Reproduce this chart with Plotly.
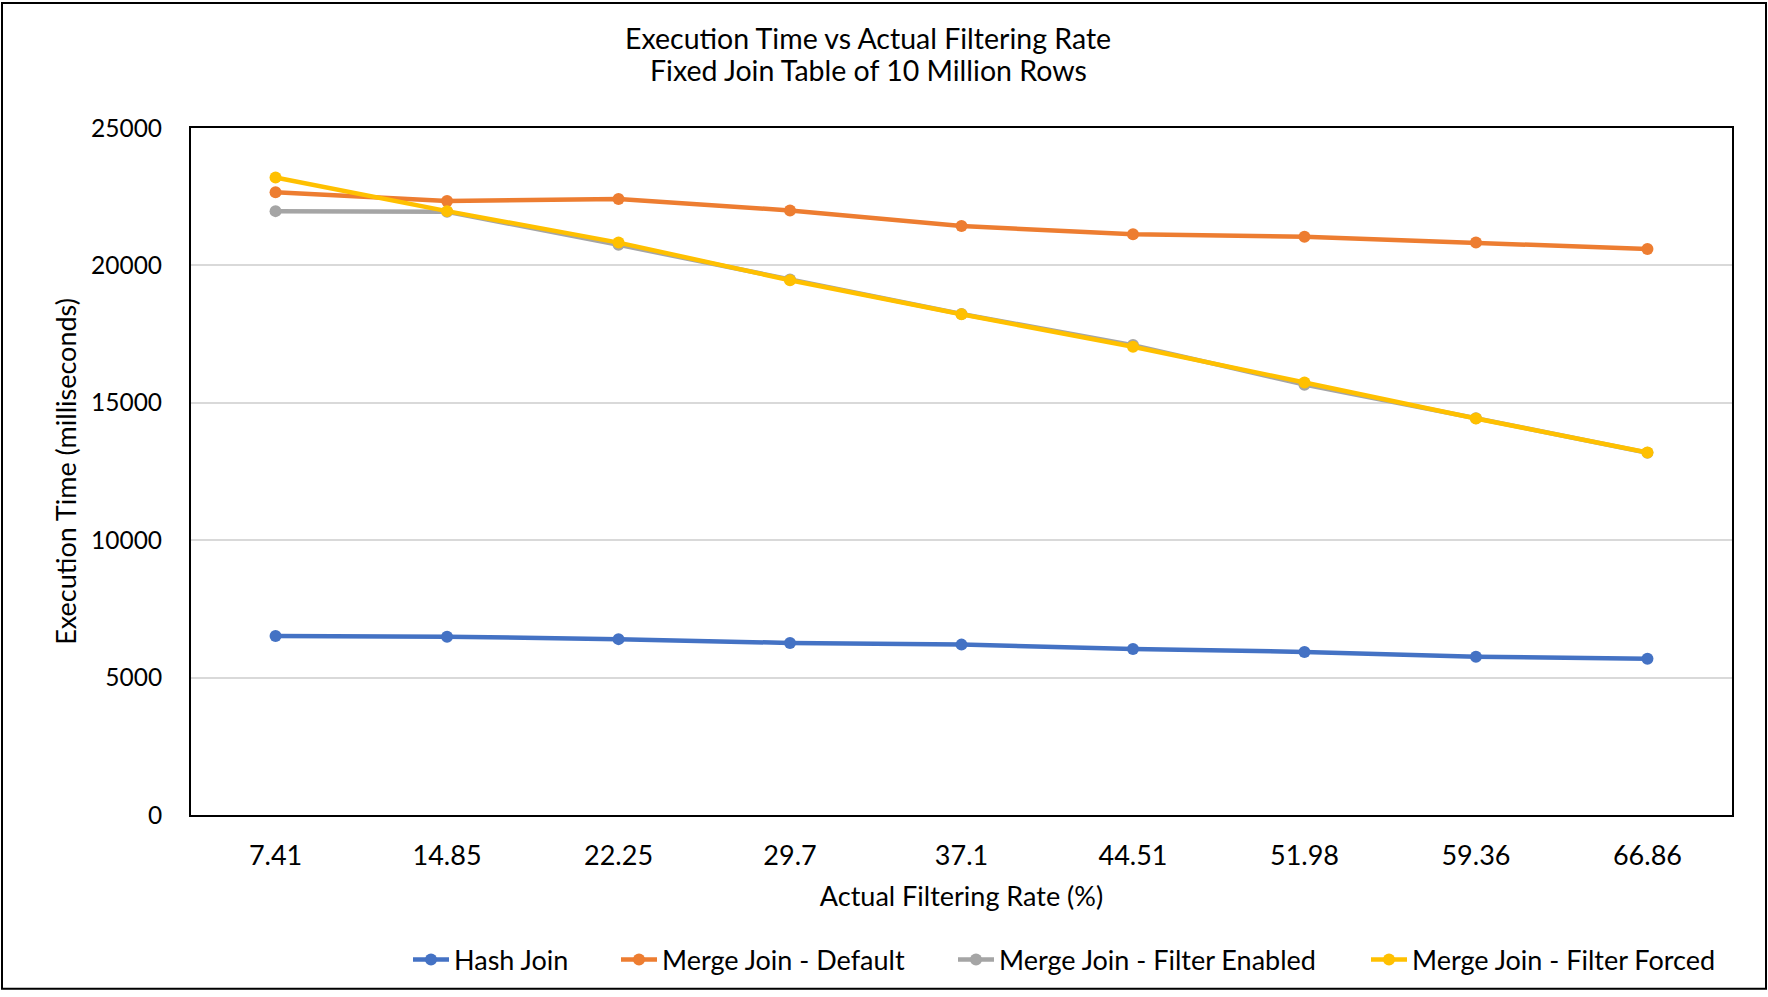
import plotly.graph_objects as go

categories = ["7.41", "14.85", "22.25", "29.7", "37.1", "44.51", "51.98", "59.36", "66.86"]
hash_join = [6510, 6490, 6400, 6260, 6200, 6040, 5935, 5755, 5690]
merge_default = [22660, 22340, 22420, 22000, 21430, 21130, 21040, 20830, 20600]
merge_filter_enabled = [21975, 21950, 20750, 19490, 18230, 17100, 15660, 14440, 13180]
merge_filter_forced = [23200, 21975, 20830, 19460, 18220, 17040, 15740, 14430, 13190]
series_names = ["Hash Join", "Merge Join - Default", "Merge Join - Filter Enabled", "Merge Join - Filter Forced"]
colors = ["#4472C4", "#ED7D31", "#A5A5A5", "#FFC000"]
y_ticks = [0, 5000, 10000, 15000, 20000, 25000]

FONT = "Lato, Roboto, sans-serif"
FS = 27

W, H = 1768, 997
L, R, T, B = 191, 1732, 128, 820
pw, ph = R - L, B - T

legend_ids = ["legend", "legend2", "legend3", "legend4"]
legend_sym_x = [413, 621, 958, 1371]  # page x of legend symbol start

fig = go.Figure()
for name, vals, col, lid in zip(series_names,
                                [hash_join, merge_default, merge_filter_enabled, merge_filter_forced],
                                colors, legend_ids):
    fig.add_trace(go.Scatter(
        x=categories, y=vals, name=name, mode="lines+markers",
        line=dict(color=col, width=4.5),
        marker=dict(color=col, size=12, symbol="circle"),
        legend=lid,
    ))

legend_cfg = {}
for lid, sx in zip(legend_ids, legend_sym_x):
    legend_cfg[lid] = dict(
        orientation="h", x=(sx - 5 - L) / pw, xanchor="left",
        y=(B - 966) / ph, yanchor="middle",
        font=dict(family=FONT, size=FS, color="#000000"), itemwidth=36,
        bgcolor="rgba(0,0,0,0)", borderwidth=0,
    )

fig.update_layout(
    width=W, height=H,
    margin=dict(l=L, r=W - R, t=T, b=H - B),
    paper_bgcolor="white", plot_bgcolor="white",
    font=dict(family=FONT, size=FS, color="#000000"),
    showlegend=True,
    **legend_cfg,
    xaxis=dict(
        type="category", showgrid=False, showline=True, linecolor="#000000", linewidth=2,
        mirror=True, ticks="", tickfont=dict(family=FONT, size=FS), ticklabelstandoff=16,
        title=dict(text="Actual Filtering Rate (%)", font=dict(family=FONT, size=FS), standoff=17),
    ),
    yaxis=dict(
        range=[0, 25000], tickvals=y_ticks, tickformat="d",
        showgrid=True, gridcolor="#D9D9D9", gridwidth=1.5,
        showline=True, linecolor="#000000", linewidth=2, mirror=True, ticks="",
        tickfont=dict(family=FONT, size=24.5), ticklabelstandoff=22, zeroline=False,
        title=dict(text="Execution Time (milliseconds)", font=dict(family=FONT, size=FS), standoff=7),
    ),
    shapes=[dict(type="rect", xref="paper", yref="paper",
                 x0=(2 - L) / pw, x1=(1766 - L) / pw,
                 y0=(B - 995) / ph, y1=(B - 2) / ph,
                 line=dict(color="#000000", width=2), fillcolor="rgba(0,0,0,0)", layer="below")],
    annotations=[
        dict(text="Execution Time vs Actual Filtering Rate", xref="paper", yref="paper",
             x=(868 - L) / pw, y=(B - 37) / ph, xanchor="center", yanchor="middle",
             showarrow=False, font=dict(family=FONT, size=28.5)),
        dict(text="Fixed Join Table of 10 Million Rows", xref="paper", yref="paper",
             x=(868 - L) / pw, y=(B - 70) / ph, xanchor="center", yanchor="middle",
             showarrow=False, font=dict(family=FONT, size=28.5)),
    ],
)

fig.write_html("out.html", config={"displayModeBar": False},
               post_script="document.body.style.margin='0px';document.body.style.overflow='hidden';")
